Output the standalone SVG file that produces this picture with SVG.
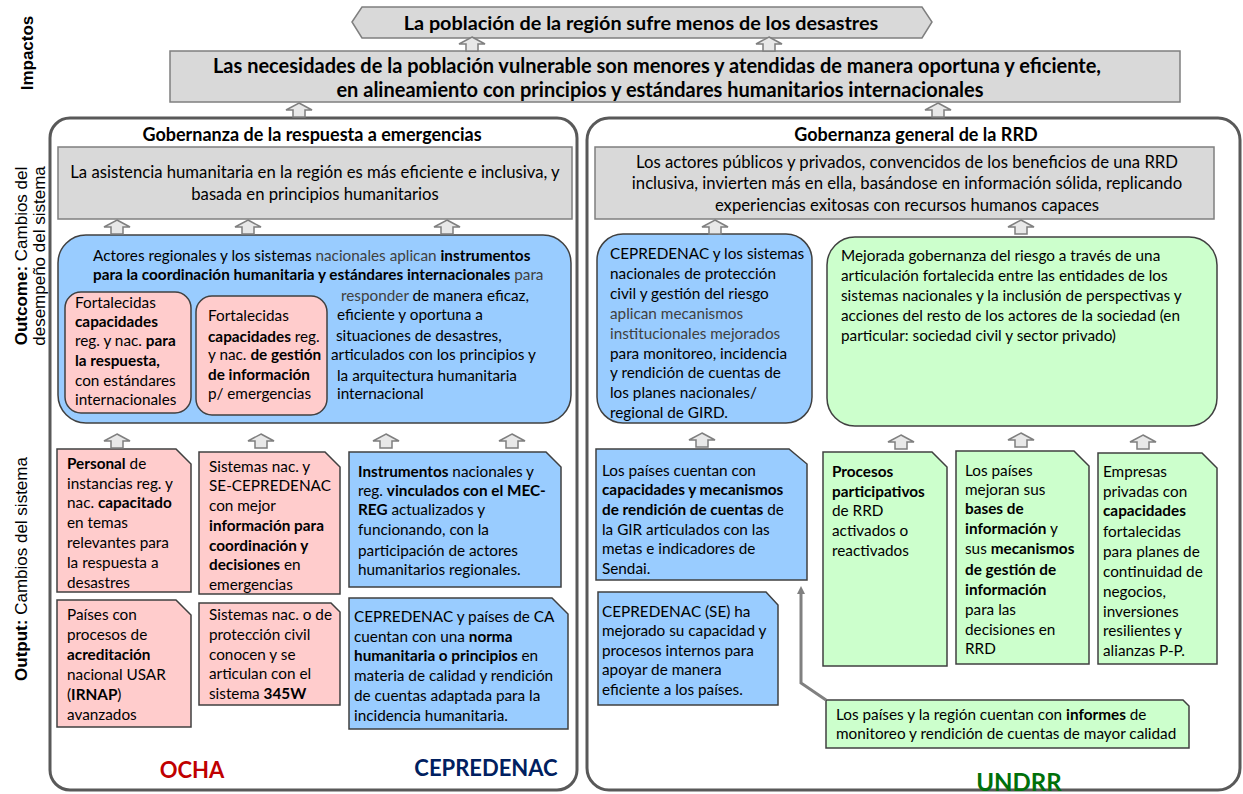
<svg xmlns="http://www.w3.org/2000/svg" width="1243" height="794" viewBox="0 0 1243 794">
<defs>
<style>
.t{font-family:Lato,"Liberation Sans",sans-serif;font-size:15.3px;fill:#000}
.tg{font-family:Lato,"Liberation Sans",sans-serif;font-size:16.7px;fill:#000}
.b{font-weight:bold}
.g{fill:#404040}
.side{font-family:"Liberation Sans",Arial,sans-serif;font-size:17px;fill:#000}
.panel{fill:#fff;stroke:#595959;stroke-width:3}
.gray{fill:#d9d9d9;stroke:#7f7f7f;stroke-width:1.5}
.blue{fill:#99ccff;stroke:#404040;stroke-width:1.5}
.pink{fill:#ffcccc;stroke:#404040;stroke-width:1.5}
.green{fill:#ccffcc;stroke:#404040;stroke-width:1.5}
.arr{fill:#e8e8e8;stroke:#7f7f7f;stroke-width:1.5}
.lbl{font-family:Lato,"Liberation Sans",sans-serif;font-weight:bold;font-size:22px}
</style>
<path id="up" d="M0,0 L13,7 L6,7 L6,14 L-6,14 L-6,7 L-13,7 Z"/>
<marker id="ah" markerWidth="8" markerHeight="8" refX="4" refY="4" orient="auto" markerUnits="userSpaceOnUse" viewBox="0 0 8 8">
<path d="M0,0 L8,4 L0,8 Z" fill="#808080"/>
</marker>
</defs>
<rect width="1243" height="794" fill="#fff"/>

<g id="side-labels">
<text class="side b" text-anchor="middle" transform="translate(33,53) rotate(-90)">Impactos</text>
<text class="side" text-anchor="middle" transform="translate(27,256) rotate(-90)"><tspan class="b">Outcome:</tspan> Cambios del</text>
<text class="side" text-anchor="middle" transform="translate(45,256) rotate(-90)">desempeño del sistema</text>
<text class="side" text-anchor="middle" transform="translate(27,569) rotate(-90)"><tspan class="b">Output:</tspan> Cambios del sistema</text>
</g>

<g id="impact-top">
<polygon class="gray" points="352,22 362,7 922,7 932,22 922,38 362,38"/>
<text class="t b" style="font-size:19.8px" x="641" y="30" text-anchor="middle">La población de la región sufre menos de los desastres</text>
</g>

<g id="impact-main">
<rect class="gray" x="170" y="51" width="1010" height="51"/>
<text class="t b" style="font-size:20px" x="657" y="73" text-anchor="middle">Las necesidades de la población vulnerable son menores y atendidas de manera oportuna y eficiente,</text>
<text class="t b" style="font-size:20px" x="660" y="97" text-anchor="middle">en alineamiento con principios y estándares humanitarios internacionales</text>
</g>

<g id="panel-left">
<rect class="panel" x="50" y="118" width="527" height="672" rx="20"/>
<text class="t b" style="font-size:18px" x="312" y="141" text-anchor="middle">Gobernanza de la respuesta a emergencias</text>
</g>

<g id="panel-right">
<rect class="panel" x="587" y="118" width="653" height="672" rx="22"/>
<text class="t b" style="font-size:18px" x="916" y="141" text-anchor="middle">Gobernanza general de la RRD</text>
</g>

<g id="outcome-left">
<rect class="gray" x="58" y="147" width="514" height="72"/>
<text class="tg" x="315" y="178" text-anchor="middle">La asistencia humanitaria en la región es más eficiente e inclusiva, y</text>
<text class="tg" x="315" y="200" text-anchor="middle">basada en principios humanitarios</text>
</g>

<g id="outcome-right">
<rect class="gray" x="595" y="147" width="619" height="72"/>
<text class="tg" x="907" y="168" text-anchor="middle">Los actores públicos y privados, convencidos de los beneficios de una RRD</text>
<text class="tg" x="907" y="189" text-anchor="middle">inclusiva, invierten más en ella, basándose en información sólida, replicando</text>
<text class="tg" x="907" y="211" text-anchor="middle">experiencias exitosas con recursos humanos capaces</text>
</g>

<g id="blue-outcome-left">
<rect class="blue" x="58" y="235" width="513" height="188" rx="28"/>
<text class="t" x="93" y="261">Actores regionales y los sistemas <tspan class="g">nacionales aplican</tspan> <tspan class="b">instrumentos</tspan></text>
<text class="t" x="93" y="280"><tspan class="b">para la coordinación humanitaria y estándares internacionales</tspan> <tspan class="g">para</tspan></text>
<text class="t" x="341" y="301"><tspan class="g">responder</tspan> de manera eficaz,</text>
<text class="t" x="337" y="320">eficiente y oportuna a</text>
<text class="t" x="336" y="341">situaciones de desastres,</text>
<text class="t" x="331" y="360">articulados con los principios y</text>
<text class="t" x="337" y="381">la arquitectura humanitaria</text>
<text class="t" x="337" y="399">internacional</text>
</g>

<g id="pink-outcome-1">
<rect class="pink" x="65" y="292" width="126" height="121" rx="16"/>
<text class="t" x="75" y="308">Fortalecidas</text>
<text class="t b" x="75" y="327">capacidades</text>
<text class="t" x="75" y="346">reg. y nac. <tspan class="b">para</tspan></text>
<text class="t b" x="75" y="366">la respuesta,</text>
<text class="t" x="75" y="386">con estándares</text>
<text class="t" x="75" y="405">internacionales</text>
</g>

<g id="pink-outcome-2">
<rect class="pink" x="196" y="296" width="131" height="119" rx="16"/>
<text class="t" x="208" y="321">Fortalecidas</text>
<text class="t" x="208" y="342"><tspan class="b">capacidades</tspan>  reg.</text>
<text class="t" x="208" y="360">y nac. <tspan class="b">de gestión</tspan></text>
<text class="t b" x="208" y="380">de información</text>
<text class="t" x="208" y="399">p/ emergencias</text>
</g>

<g id="blue-outcome-right">
<rect class="blue" x="597" y="234" width="215" height="189" rx="26"/>
<text class="t" x="610" y="259">CEPREDENAC y los sistemas</text>
<text class="t" x="610" y="279">nacionales de protección</text>
<text class="t" x="610" y="299">civil y gestión del riesgo</text>
<text class="t g" x="610" y="319">aplican mecanismos</text>
<text class="t g" x="610" y="339">institucionales mejorados</text>
<text class="t" x="610" y="359">para monitoreo, incidencia</text>
<text class="t" x="610" y="378">y rendición de cuentas de</text>
<text class="t" x="610" y="398">los planes nacionales/</text>
<text class="t" x="610" y="418">regional de GIRD.</text>
</g>

<g id="green-outcome-right">
<rect class="green" x="827" y="237" width="390" height="189" rx="28"/>
<text class="t" x="841" y="261">Mejorada gobernanza del riesgo a través de una</text>
<text class="t" x="841" y="281">articulación fortalecida entre las entidades de los</text>
<text class="t" x="841" y="301">sistemas nacionales y la inclusión de perspectivas y</text>
<text class="t" x="841" y="321">acciones del resto de los actores de la sociedad (en</text>
<text class="t" x="841" y="341">particular: sociedad civil y sector privado)</text>
</g>

<g id="output-pink-1">
<path class="pink" d="M57,449 H176 L191,464 V592 H57 Z"/>
<text class="t" x="67" y="469"><tspan class="b">Personal</tspan> de</text>
<text class="t" x="67" y="489">instancias reg. y</text>
<text class="t" x="67" y="508">nac. <tspan class="b">capacitado</tspan></text>
<text class="t" x="67" y="528">en temas</text>
<text class="t" x="67" y="548">relevantes para</text>
<text class="t" x="67" y="568">la respuesta a</text>
<text class="t" x="67" y="588">desastres</text>
</g>

<g id="output-pink-2">
<path class="pink" d="M199,452 H325 L340,467 V594 H199 Z"/>
<text class="t" x="209" y="472">Sistemas nac. y</text>
<text class="t" x="209" y="491">SE-CEPREDENAC</text>
<text class="t" x="209" y="511">con mejor</text>
<text class="t b" x="209" y="531">información para</text>
<text class="t b" x="209" y="551">coordinación y</text>
<text class="t" x="209" y="570"><tspan class="b">decisiones</tspan> en</text>
<text class="t" x="209" y="590">emergencias</text>
</g>

<g id="output-blue-1">
<path class="blue" d="M349,452 H546 L561,467 V587 H349 Z"/>
<text class="t" x="358" y="477"><tspan class="b">Instrumentos</tspan> nacionales y</text>
<text class="t" x="358" y="496">reg. <tspan class="b">vinculados con el MEC-</tspan></text>
<text class="t" x="358" y="515"><tspan class="b">REG</tspan> actualizados y</text>
<text class="t" x="358" y="535">funcionando, con la</text>
<text class="t" x="358" y="556">participación de actores</text>
<text class="t" x="358" y="575">humanitarios regionales.</text>
</g>

<g id="output-pink-3">
<path class="pink" d="M57,600 H176 L191,615 V727 H57 Z"/>
<text class="t" x="67" y="620">Países con</text>
<text class="t" x="67" y="640">procesos de</text>
<text class="t b" x="67" y="660">acreditación</text>
<text class="t" x="67" y="680">nacional USAR</text>
<text class="t" x="67" y="700">(<tspan class="b">IRNAP</tspan>)</text>
<text class="t" x="67" y="720">avanzados</text>
</g>

<g id="output-pink-4">
<path class="pink" d="M199,603 H331 L340,612 V705 H199 Z"/>
<text class="t" x="209" y="620">Sistemas nac. o de</text>
<text class="t" x="209" y="640">protección civil</text>
<text class="t" x="209" y="660">conocen y se</text>
<text class="t" x="209" y="679">articulan con el</text>
<text class="t" x="209" y="699">sistema <tspan class="b">345W</tspan></text>
</g>

<g id="output-blue-2">
<path class="blue" d="M349,598 H552 L568,614 V729 H349 Z"/>
<text class="t" x="354" y="622">CEPREDENAC y países de CA</text>
<text class="t" x="354" y="642">cuentan con una <tspan class="b">norma</tspan></text>
<text class="t" x="354" y="661"><tspan class="b">humanitaria o principios</tspan> en</text>
<text class="t" x="354" y="681">materia de calidad y rendición</text>
<text class="t" x="354" y="701">de cuentas adaptada para la</text>
<text class="t" x="354" y="721">incidencia humanitaria.</text>
</g>

<g id="output-blue-3">
<path class="blue" d="M596,449 H789 L807,464 V580 H596 Z"/>
<text class="t" x="602" y="476">Los países cuentan con</text>
<text class="t b" x="602" y="495">capacidades y mecanismos</text>
<text class="t" x="602" y="515"><tspan class="b">de rendición de cuentas</tspan> de</text>
<text class="t" x="602" y="535">la GIR articulados con las</text>
<text class="t" x="602" y="554">metas e indicadores de</text>
<text class="t" x="602" y="574">Sendai.</text>
</g>

<g id="output-blue-4">
<path class="blue" d="M598,592 H766 L778,605 V705 H598 Z"/>
<text class="t" x="602" y="617">CEPREDENAC (SE) ha</text>
<text class="t" x="602" y="636">mejorado su capacidad y</text>
<text class="t" x="602" y="656">procesos internos para</text>
<text class="t" x="602" y="675">apoyar de manera</text>
<text class="t" x="602" y="695">eficiente a los países.</text>
</g>

<g id="output-green-1">
<path class="green" d="M823,452 H932 L947,467 V666 H823 Z"/>
<text class="t b" x="832" y="477">Procesos</text>
<text class="t b" x="832" y="497">participativos</text>
<text class="t" x="832" y="516">de RRD</text>
<text class="t" x="832" y="536">activados o</text>
<text class="t" x="832" y="556">reactivados</text>
</g>

<g id="output-green-2">
<path class="green" d="M956,451 H1074 L1089,466 V664 H956 Z"/>
<text class="t" x="965" y="476">Los países</text>
<text class="t" x="965" y="495">mejoran sus</text>
<text class="t b" x="965" y="514">bases de</text>
<text class="t" x="965" y="534"><tspan class="b">información</tspan> y</text>
<text class="t" x="965" y="554">sus <tspan class="b">mecanismos</tspan></text>
<text class="t b" x="965" y="575">de gestión de</text>
<text class="t b" x="965" y="595">información</text>
<text class="t" x="965" y="615">para las</text>
<text class="t" x="965" y="635">decisiones en</text>
<text class="t" x="965" y="654">RRD</text>
</g>

<g id="output-green-3">
<path class="green" d="M1098,453 H1202 L1217,468 V664 H1098 Z"/>
<text class="t" x="1103" y="477">Empresas</text>
<text class="t" x="1103" y="497">privadas  con</text>
<text class="t b" x="1103" y="516">capacidades</text>
<text class="t" x="1103" y="537">fortalecidas</text>
<text class="t" x="1103" y="557">para planes de</text>
<text class="t" x="1103" y="577">continuidad de</text>
<text class="t" x="1103" y="597">negocios,</text>
<text class="t" x="1103" y="617">inversiones</text>
<text class="t" x="1103" y="636">resilientes y</text>
<text class="t" x="1103" y="656">alianzas P-P.</text>
</g>

<g id="output-green-4">
<path class="green" d="M826,700 H1183 L1189,706 V748 H826 Z"/>
<text class="t" x="836" y="720">Los países y la región cuentan con <tspan class="b">informes</tspan> de</text>
<text class="t" x="836" y="739">monitoreo y rendición de cuentas de mayor calidad</text>
</g>

<g id="org-labels">
<text class="lbl" x="192" y="778" text-anchor="middle" fill="#c00000">OCHA</text>
<text class="lbl" x="486" y="776" text-anchor="middle" fill="#002060">CEPREDENAC</text>
<text class="lbl" style="font-size:24px" x="1019" y="791" text-anchor="middle" fill="#00700a">UNDRR</text>
</g>

<g id="connectors">
<use href="#up" class="arr" x="472" y="37"/>
<use href="#up" class="arr" x="769" y="37"/>
<use href="#up" class="arr" x="299" y="103"/>
<use href="#up" class="arr" x="938" y="103"/>
<use href="#up" class="arr" x="117" y="220"/>
<use href="#up" class="arr" x="248" y="220"/>
<use href="#up" class="arr" x="447" y="220"/>
<use href="#up" class="arr" x="715" y="220"/>
<use href="#up" class="arr" x="1021" y="220"/>
<use href="#up" class="arr" x="117" y="434"/>
<use href="#up" class="arr" x="261" y="434"/>
<use href="#up" class="arr" x="386" y="434"/>
<use href="#up" class="arr" x="512" y="434"/>
<use href="#up" class="arr" x="702" y="433"/>
<use href="#up" class="arr" x="901" y="435"/>
<use href="#up" class="arr" x="1021" y="433"/>
<use href="#up" class="arr" x="1143" y="435"/>
<path d="M826,700 L801,683 L801,590" fill="none" stroke="#808080" stroke-width="3" marker-end="url(#ah)"/>
</g>
</svg>
